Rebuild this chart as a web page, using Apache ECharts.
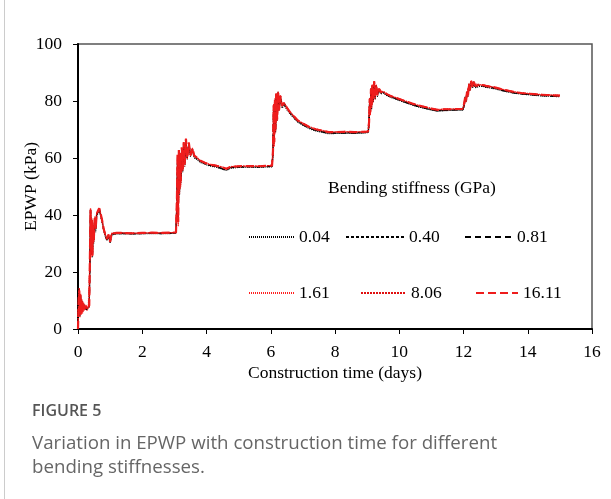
<!DOCTYPE html>
<html>
<head>
<meta charset="utf-8">
<script src="https://cdn.jsdelivr.net/npm/echarts@6/dist/echarts.min.js"></script>
<style>
  html, body { margin: 0; padding: 0; background: #fff; }
  #chart { width: 611px; height: 499px; }
</style>
</head>
<body>
<div id="chart"></div>
<script>
// Construction time (days), shared by every stiffness case
const days = [
  0, 0.02, 0.04, 0.06, 0.08, 0.10, 0.12, 0.14, 0.17, 0.20, 0.24, 0.28, 0.32, 0.35,
  0.37, 0.39, 0.41, 0.43, 0.45, 0.47, 0.49, 0.52, 0.55, 0.58, 0.62, 0.66, 0.70, 0.75, 0.80, 0.85, 0.90, 0.95, 1.00, 1.05, 1.10, 1.20,
  1.40, 1.70, 2.00, 2.30, 2.60, 2.90, 3.05,
  3.08, 3.10, 3.12, 3.14, 3.16, 3.18, 3.20, 3.23, 3.26, 3.29, 3.32, 3.36, 3.40, 3.45, 3.50, 3.56, 3.62, 3.70, 3.80, 3.95, 4.10, 4.30, 4.50, 4.62, 4.75, 5.00, 5.30, 5.60, 5.90, 6.04,
  6.07, 6.09, 6.11, 6.13, 6.15, 6.17, 6.20, 6.23, 6.26, 6.30, 6.35, 6.42, 6.50, 6.60, 6.72, 6.85, 7.00, 7.20, 7.40, 7.60, 7.80, 8.00, 8.30, 8.60, 8.90, 9.03,
  9.06, 9.08, 9.10, 9.12, 9.14, 9.16, 9.19, 9.22, 9.25, 9.28, 9.32, 9.37, 9.43, 9.50, 9.60, 9.72, 9.85, 10.00, 10.20, 10.40, 10.60, 10.80, 11.00, 11.20, 11.40, 11.60, 11.80, 11.98,
  12.02, 12.05, 12.08, 12.11, 12.14, 12.17, 12.20, 12.24, 12.28, 12.32, 12.37, 12.43, 12.50, 12.60, 12.70, 12.85, 13.00, 13.20, 13.40, 13.60, 13.80, 14.00, 14.20, 14.40, 14.60, 14.80, 15.00
];

// EPWP (kPa) for each bending stiffness
const epwp004 = [
  0, 9, 13.5, 5, 11, 6, 9.5, 6.5, 8.5, 7, 7.5, 7, 7.2, 7.8,
  22, 41, 26, 37, 25, 35, 30, 38, 34, 39.5, 40.5, 41.5, 40, 37.5, 34.5, 32.5, 31, 32.5, 30.2, 33, 32.8, 33.4,
  33.4, 33.3, 33.4, 33.5, 33.4, 33.5, 33.6,
  44, 59, 37, 61, 47, 60, 51, 62, 55, 64, 57, 66, 59.5, 64.5, 60.5, 62.5, 60, 59.5, 58.5, 57.8, 57.2, 56.8, 56, 55.6, 56.4, 56.7, 56.8, 56.7, 56.9, 56.9,
  61, 77, 65, 79, 69, 81, 73, 82.5, 76.5, 81, 77.5, 78.5, 77, 75.5, 74, 72.5, 71.5, 70.3, 69.5, 69, 68.5, 68.6, 68.7, 68.6, 68.8, 68.9,
  71, 79, 75, 83, 77, 84.5, 79.5, 86, 80.5, 85, 81.5, 83.5, 82.5, 82.8, 82, 81.3, 80.8, 80.2, 79.4, 78.6, 77.9, 77.4, 76.8, 76.4, 76.6, 76.7, 76.8, 76.8,
  78, 80.5, 79.5, 82.5, 81.5, 85, 83.5, 86.5, 84.5, 86, 84.7, 85.4, 85.1, 85.1, 84.8, 84.5, 84.2, 83.6, 83.1, 82.7, 82.4, 82.2, 82, 81.8, 81.7, 81.6, 81.5
];
const epwp040 = [
  0, 10, 14, 4.5, 12, 5.5, 10, 6, 9, 7.5, 8, 6.8, 7.4, 8,
  23, 42, 28, 38.5, 26, 36.5, 31, 39, 35.5, 40, 41, 42, 40.2, 37.8, 34.8, 32.8, 31.2, 32.8, 30.4, 33.2, 33, 33.5,
  33.5, 33.4, 33.5, 33.6, 33.5, 33.6, 33.7,
  46, 60.5, 39, 62, 49, 61.5, 53, 63, 56.5, 65.5, 58.5, 66.2, 60.5, 65.2, 61, 63.2, 60.4, 59.8, 58.8, 58, 57.4, 57, 56.2, 55.8, 56.6, 56.8, 56.9, 56.8, 57, 57,
  63, 78.5, 67, 80.5, 71, 82.5, 75, 83.2, 77.5, 81.8, 78.2, 79.2, 77.6, 76, 74.4, 72.8, 71.8, 70.6, 69.8, 69.3, 68.8, 68.8, 68.9, 68.8, 69, 69,
  73, 81, 77, 84.5, 79, 85.5, 81, 86.8, 81.5, 85.8, 82.2, 84.2, 83.1, 83.1, 82.3, 81.6, 81.1, 80.4, 79.6, 78.8, 78.1, 77.6, 77, 76.6, 76.8, 76.9, 77, 77,
  79, 81.5, 80.5, 83.5, 82.5, 86, 84.5, 87, 85.5, 86.8, 85.1, 85.9, 85.4, 85.4, 85.1, 84.8, 84.5, 83.8, 83.3, 82.9, 82.6, 82.4, 82.2, 82, 81.9, 81.8, 81.7
];
const epwp081 = [
  0, 8.5, 13, 5.5, 10.5, 6.5, 9, 7, 8, 7.2, 7.8, 7.2, 7.6, 8.2,
  25, 41.5, 27, 37.5, 27, 36, 32, 38.5, 35, 40.2, 41.2, 42.2, 40.6, 38, 35, 33, 31.4, 33, 30.8, 33.4, 33.1, 33.6,
  33.6, 33.5, 33.6, 33.7, 33.6, 33.7, 33.8,
  43, 59.5, 38, 61.5, 48, 60.5, 52, 62.5, 56, 64.8, 57.5, 66.4, 60, 65, 61.2, 63, 60.6, 59.9, 59, 58.1, 57.5, 57.1, 56.3, 55.9, 56.7, 56.9, 57, 56.9, 57.1, 57.1,
  62, 77.5, 66, 79.5, 70, 81.5, 74, 82.8, 77, 81.4, 78, 79, 77.4, 75.8, 74.2, 72.7, 71.7, 70.5, 69.7, 69.2, 68.7, 68.7, 68.8, 68.7, 68.9, 69,
  72, 80, 76, 83.5, 78, 85, 80, 86.4, 81, 85.2, 82, 83.8, 82.8, 83, 82.2, 81.5, 81, 80.3, 79.5, 78.7, 78, 77.5, 76.9, 76.5, 76.7, 76.8, 76.9, 76.9,
  78.5, 81, 80, 83, 82, 85.5, 84, 86.8, 85, 86.4, 85, 85.7, 85.3, 85.3, 85, 84.7, 84.4, 83.7, 83.2, 82.8, 82.5, 82.3, 82.1, 81.9, 81.8, 81.7, 81.6
];
const epwp161 = [
  0, 11, 14.5, 4, 12.5, 5, 10.5, 5.5, 9.5, 6.5, 8.5, 6.5, 7.5, 8,
  24, 42.5, 25, 39, 25.5, 37, 30.5, 39.5, 35, 40.5, 41.5, 42.5, 40.8, 38.2, 35.2, 33.2, 31.6, 33.2, 30.6, 33.6, 33.2, 33.8,
  33.7, 33.6, 33.7, 33.8, 33.7, 33.8, 33.9,
  45, 60, 36, 62.5, 47.5, 61.5, 50, 63.5, 55.5, 65.8, 57, 66.8, 59.5, 65.5, 60.8, 63.5, 60.8, 60.2, 59.2, 58.4, 57.8, 57.4, 56.8, 56.3, 57, 57.1, 57.2, 57.1, 57.3, 57.3,
  61, 79, 64, 81, 69, 82.8, 73, 83.4, 76.5, 82, 78.4, 79.4, 77.8, 76.2, 74.7, 73.2, 72.2, 71, 70.2, 69.7, 69.2, 69.2, 69.3, 69.2, 69.3, 69.4,
  71, 81, 75, 84.5, 77.5, 85.8, 79.5, 87, 80.5, 85.8, 81.8, 84.4, 83.2, 83.4, 82.6, 81.9, 81.4, 80.8, 80, 79.2, 78.5, 78, 77.4, 77, 77.2, 77.2, 77.3, 77.3,
  79.5, 81, 79.5, 83.5, 81.5, 86.2, 83.5, 87.2, 84.8, 86.8, 85.2, 86.1, 85.7, 85.7, 85.4, 85.1, 84.8, 84.2, 83.7, 83.2, 82.9, 82.7, 82.5, 82.3, 82.2, 82.1, 82
];
const epwp806 = [
  0, 9.5, 14, 5, 11.5, 6, 10, 6.5, 9, 7, 8, 7, 7.6, 8.2,
  26, 42, 26.5, 38, 26.5, 36.5, 31.5, 39, 35.5, 40.5, 41.3, 42.3, 40.6, 38.1, 35.1, 33.1, 31.5, 33.1, 30.5, 33.5, 33.1, 33.7,
  33.7, 33.6, 33.7, 33.8, 33.7, 33.8, 33.9,
  47, 61, 39, 62.2, 49, 61, 51.5, 63.2, 56.5, 65.2, 58.2, 66.6, 60.2, 65.2, 61.3, 63.3, 60.7, 60.1, 59.1, 58.3, 57.7, 57.3, 56.7, 56.2, 56.9, 57.1, 57.2, 57.1, 57.3, 57.3,
  64, 78, 67, 80, 71.5, 82.3, 74.5, 83, 77.5, 81.6, 78.3, 79.3, 77.7, 76.1, 74.6, 73.1, 72.1, 70.9, 70.1, 69.6, 69.1, 69.1, 69.2, 69.1, 69.2, 69.3,
  74, 80.5, 77, 84, 79, 85.2, 81, 86.6, 81.8, 85.6, 82.4, 84.2, 83.1, 83.3, 82.5, 81.8, 81.3, 80.7, 79.9, 79.1, 78.4, 77.9, 77.3, 76.9, 77.1, 77.1, 77.2, 77.2,
  78.5, 80.5, 80.5, 82.8, 82.5, 85.8, 84.2, 86.8, 85.3, 86.6, 85.4, 86, 85.6, 85.6, 85.3, 85, 84.7, 84.1, 83.6, 83.1, 82.8, 82.6, 82.4, 82.2, 82.1, 82, 81.9
];
const epwp1611 = [
  0, 10.5, 13.5, 5.5, 12, 5.5, 9.5, 6, 9, 7, 8.2, 7, 7.7, 8.3,
  24.5, 41.8, 27.5, 38.2, 25.8, 36.2, 30.8, 39.2, 35.2, 40.3, 41.4, 42.4, 40.7, 38.2, 35.1, 33.1, 31.5, 33.1, 30.6, 33.5, 33.2, 33.7,
  33.7, 33.6, 33.7, 33.8, 33.7, 33.8, 33.9,
  46, 61.5, 37.5, 62.8, 48.5, 61.8, 52, 63.8, 56, 65.5, 57.8, 66.7, 60, 65.4, 61, 63.4, 60.8, 60.1, 59.1, 58.3, 57.7, 57.3, 56.7, 56.2, 56.9, 57.1, 57.2, 57.1, 57.3, 57.3,
  62.5, 78.5, 65.5, 80.8, 70, 82.5, 73.5, 83.2, 77, 81.8, 78.3, 79.3, 77.7, 76.1, 74.6, 73.1, 72.1, 70.9, 70.1, 69.6, 69.1, 69.1, 69.2, 69.1, 69.2, 69.3,
  72.5, 80.8, 76, 84.2, 78, 85.6, 80.5, 86.9, 81.2, 85.7, 82.1, 84.3, 83.1, 83.3, 82.5, 81.8, 81.3, 80.7, 79.9, 79.1, 78.4, 77.9, 77.3, 76.9, 77.1, 77.1, 77.2, 77.2,
  79, 81.2, 80, 83.2, 82, 86, 84, 87, 85, 86.7, 85.3, 86, 85.6, 85.6, 85.3, 85, 84.7, 84.1, 83.6, 83.1, 82.8, 82.6, 82.4, 82.2, 82.1, 82, 81.9
];

const stiffnessLabels = ['0.04', '0.40', '0.81', '1.61', '8.06', '16.11'];
const stiffnessValues = [epwp004, epwp040, epwp081, epwp161, epwp806, epwp1611];

const xTicks = { min: 0, max: 16, step: 2 };
const yTicks = { min: 0, max: 100, step: 20 };

const SERIF = '"Liberation Serif", "Times New Roman", serif';
const SANS = '"Open Sans", "Noto Sans", sans-serif';
const SERIF_SIZE = 17.5;

// line look of each case: black for the soft piles, red for the stiff ones
const lineLooks = [
  { color: '#000000', width: 1.2, type: [1, 1] },
  { color: '#000000', width: 1.3, type: [3, 2] },
  { color: '#000000', width: 1.3, type: [6, 4] },
  { color: '#ff2020', width: 1.3, type: [1, 1] },
  { color: '#e01010', width: 1.3, type: [2, 1] },
  { color: '#ee1c1c', width: 2.2, type: [8, 4] }
];

const series = stiffnessLabels.map((name, k) => ({
  name: name,
  type: 'line',
  showSymbol: false,
  symbol: 'none',
  animation: false,
  z: 2 + k,
  data: days.map((d, i) => [d, stiffnessValues[k][i]]),
  lineStyle: {
    color: lineLooks[k].color,
    width: lineLooks[k].width,
    type: lineLooks[k].type
  },
  itemStyle: { color: lineLooks[k].color }
}));

// legend entries laid out in two rows of three
const legendSpots = [
  { left: 248, top: 228, w: 45 },
  { left: 345, top: 228, w: 58 },
  { left: 464, top: 228, w: 47 },
  { left: 248, top: 284, w: 45 },
  { left: 360, top: 284, w: 45 },
  { left: 475, top: 284, w: 42 }
];
const legends = stiffnessLabels.map((name, k) => ({
  data: [name],
  left: legendSpots[k].left,
  top: legendSpots[k].top,
  itemWidth: legendSpots[k].w,
  itemHeight: 14,
  itemGap: 0,
  padding: 0,
  selectedMode: false,
  itemStyle: { color: 'rgba(0,0,0,0)', borderWidth: 0, opacity: 0 },
  textStyle: { fontFamily: SERIF, fontSize: SERIF_SIZE, color: '#000', padding: [0, 0, 0, 0] }
}));

const chart = echarts.init(document.getElementById('chart'), null, { renderer: 'canvas' });
chart.setOption({
  animation: false,
  backgroundColor: '#ffffff',
  grid: {
    left: 78, right: 19, top: 44, bottom: 170,
    show: true, borderColor: '#555555', borderWidth: 1.5, backgroundColor: 'transparent'
  },
  xAxis: {
    type: 'value',
    min: xTicks.min, max: xTicks.max, interval: xTicks.step,
    name: 'Construction time (days)',
    nameLocation: 'middle',
    nameGap: 35,
    nameMoveOverlap: false,
    nameTextStyle: { fontFamily: SERIF, fontSize: SERIF_SIZE, color: '#000' },
    axisLine: { show: true, onZero: false, lineStyle: { color: '#000', width: 2 } },
    axisTick: { show: true, inside: false, length: 5, lineStyle: { color: '#000', width: 1 } },
    axisLabel: { fontFamily: SERIF, fontSize: SERIF_SIZE, color: '#000', margin: 14 },
    splitLine: { show: false }
  },
  yAxis: {
    type: 'value',
    min: yTicks.min, max: yTicks.max, interval: yTicks.step,
    name: 'EPWP (kPa)',
    nameLocation: 'middle',
    nameGap: 38,
    nameMoveOverlap: false,
    nameTextStyle: { fontFamily: SERIF, fontSize: SERIF_SIZE, color: '#000' },
    axisLine: { show: true, onZero: false, lineStyle: { color: '#000', width: 2 } },
    axisTick: { show: true, inside: false, length: 5, lineStyle: { color: '#000', width: 1 } },
    axisLabel: { fontFamily: SERIF, fontSize: SERIF_SIZE, color: '#000', margin: 16 },
    splitLine: { show: false }
  },
  legend: legends,
  series: series,
  graphic: [
    {
      type: 'line', silent: true,
      shape: { x1: 4.5, y1: 0, x2: 4.5, y2: 499 },
      style: { stroke: '#cccccc', lineWidth: 1 }
    },
    {
      type: 'text', silent: true, x: 412, y: 188,
      style: {
        text: 'Bending stiffness (GPa)', fill: '#000',
        font: SERIF_SIZE + 'px ' + SERIF, textAlign: 'center', textVerticalAlign: 'middle'
      }
    },
    {
      type: 'text', silent: true, x: 32, y: 411,
      style: {
        text: 'FIGURE 5', fill: '#555555',
        font: '600 16px ' + SANS, textAlign: 'left', textVerticalAlign: 'middle'
      }
    },
    {
      type: 'text', silent: true, x: 32, y: 444,
      style: {
        text: 'Variation in EPWP with construction time for different', fill: '#666666',
        font: '18.7px ' + SANS, textAlign: 'left', textVerticalAlign: 'middle'
      }
    },
    {
      type: 'text', silent: true, x: 32, y: 468,
      style: {
        text: 'bending stiffnesses.', fill: '#666666',
        font: '18.7px ' + SANS, textAlign: 'left', textVerticalAlign: 'middle'
      }
    }
  ]
});
</script>
</body>
</html>
